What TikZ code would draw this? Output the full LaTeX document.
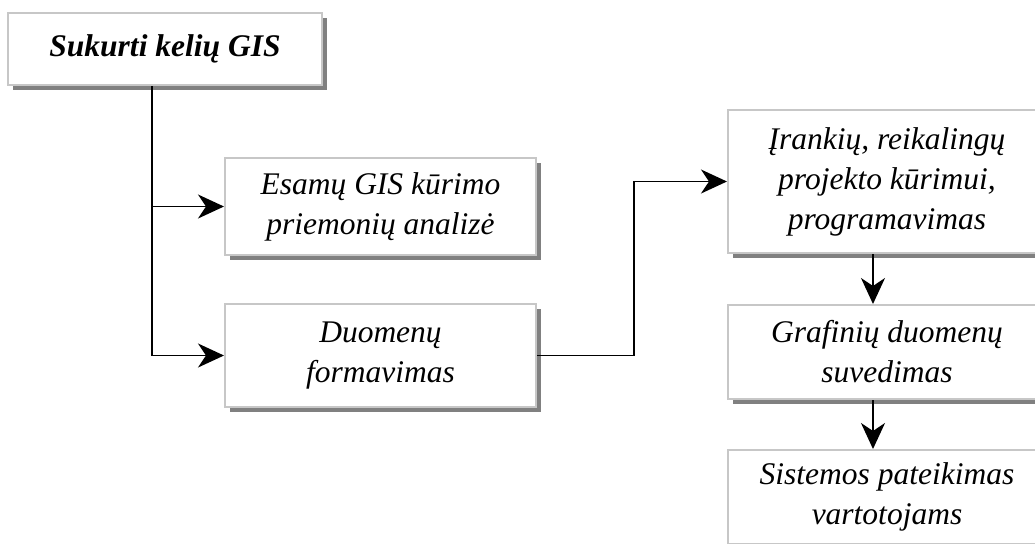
\documentclass[tikz,border=0pt]{standalone}
\usepackage{fontspec}
\setmainfont{Liberation Serif}
\usetikzlibrary{arrows.meta,positioning,shadows}

\begin{document}
\begin{tikzpicture}[
  x=0.5pt, y=-0.5pt,
  node distance=25pt,
  box/.style={
    rectangle, draw=black!22, line width=1pt, fill=white,
    drop shadow={shadow xshift=2.5pt, shadow yshift=-2.5pt,
                 fill=black!50, opacity=1},
    align=center, inner sep=0pt,
    font=\fontsize{15.75}{20}\selectfont\itshape},
  arr/.style={-{Stealth[length=13pt, width=12pt, inset=4pt]}, line width=0.85pt},
]
  \useasboundingbox (0,0) rectangle (1035,543);

  \node[box, minimum width=157pt, minimum height=36pt,
        font=\fontsize{15.75}{20}\selectfont\bfseries\itshape]
        (goal) at (165,49) {Sukurti kelių GIS};
  \node[box, minimum width=155.5pt, minimum height=48.5pt]
        (esamu) at (380.5,206.5) {Esamų GIS kūrimo\\priemonių analizė};
  \node[box, minimum width=155.5pt, minimum height=51.5pt,
        below=23.5pt of esamu]
        (duom) {Duomenų\\formavimas};
  \node[box, minimum width=159pt, minimum height=71.5pt]
        (irank) at (887,181.5)
        {Įrankių, reikalingų\\projekto kūrimui,\\programavimas};
  \node[box, minimum width=159pt, minimum height=47pt,
        below=25pt of irank]
        (graf) {Grafinių duomenų\\suvedimas};
  \node[box, minimum width=159pt, minimum height=47pt,
        below=24.5pt of graf]
        (sist) {Sistemos pateikimas\\vartotojams};

  \coordinate (trunk) at (152,0);
  \coordinate (col)   at (873,0);

  % connectors
  \draw[arr] (goal.south -| trunk) |- (duom.west);
  \draw[arr] (trunk |- esamu.west) -- (esamu.west);
  \draw[arr] (duom.east) -- ++(97,0) |- (irank.west);
  \draw[arr] (irank.south -| col) -- (graf.north -| col);
  \draw[arr] (graf.south -| col) -- (sist.north -| col);
\end{tikzpicture}
\end{document}
